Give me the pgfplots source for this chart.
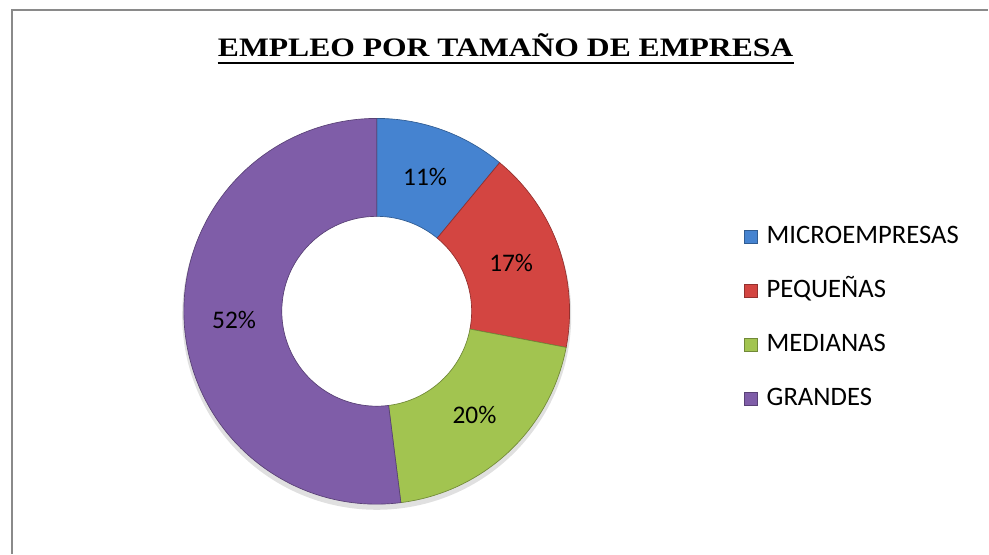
\documentclass[border=0pt]{standalone}
\usepackage{pgfplots}
\pgfplotsset{compat=1.18}
\usepackage{pgfplotstable}
\usepackage{graphicx}
\usepackage{fontspec}
\setmainfont{Carlito}
\newfontfamily\titlefont{Liberation Serif}

\definecolor{cmicro}{HTML}{4583D0}
\definecolor{cpeq}{HTML}{D34541}
\definecolor{cmed}{HTML}{A2C450}
\definecolor{cgra}{HTML}{7F5DA8}
\definecolor{framegray}{HTML}{8A8A8A}

% share of employment, in percent
\pgfplotstableread[col sep=comma]{
name,value,col
MICROEMPRESAS,11,cmicro
PEQUEÑAS,17,cpeq
MEDIANAS,20,cmed
GRANDES,52,cgra
}\shares

\begin{document}
\begin{tikzpicture}
\begin{axis}[
    width=741.75pt,
    height=415.5pt,
    scale only axis,
    xmin=0, xmax=989,
    ymin=0, ymax=554,
    hide axis,
    clip=false
]
\coordinate (SW) at (axis cs:0,0);
\coordinate (NE) at (axis cs:989,554);
\coordinate (F) at (axis cs:12,544);
\coordinate (C) at (axis cs:377,242.5);
\coordinate (T) at (axis cs:506,497.5);
\coordinate (L) at (axis cs:745,310.7);
\end{axis}

\path (SW) rectangle (NE);
\draw[framegray, line width=1.1pt] (F |- SW) -- (F) -- (F -| NE);

% title
\node[inner sep=0, anchor=base] (title) at (T)
  {\titlefont\bfseries\fontsize{20}{20}\selectfont\scalebox{1.186}[1]{EMPLEO POR TAMAÑO DE EMPRESA}};
\draw[line width=2pt] ([yshift=-5pt]title.base west) -- ([yshift=-5pt]title.base east);

% soft shadow under the ring, hole kept white
\fill[black!12] ([yshift=-3pt]C) circle[radius=146pt];
\fill[white] (C) circle[radius=71.25pt];

% ring segments, clockwise from 12 o'clock, plus legend
\pgfplotstablegetrowsof{\shares}
\pgfmathtruncatemacro{\nlast}{\pgfplotsretval-1}
\gdef\cum{0}
\foreach \i in {0,...,\nlast}{
  \pgfplotstablegetelem{\i}{value}\of\shares \let\val\pgfplotsretval
  \pgfplotstablegetelem{\i}{col}\of\shares \let\col\pgfplotsretval
  \pgfmathsetmacro{\aa}{90-3.6*\cum}
  \pgfmathsetmacro{\ab}{90-3.6*(\cum+\val)}
  \pgfmathsetmacro{\am}{(\aa+\ab)/2}
  \fill[\col, draw=\col!70!black, line width=0.5pt]
    ([shift={(\aa:144.75pt)}]C) arc[start angle=\aa, end angle=\ab, radius=144.75pt]
    -- ([shift={(\ab:71.25pt)}]C) arc[start angle=\ab, end angle=\aa, radius=71.25pt] -- cycle;
  \node[font=\fontsize{19}{19}\selectfont] at ([shift={(\am:107.25pt)}]C) {\val\%};
  \pgfmathsetmacro{\newcum}{\cum+\val}
  \xdef\cum{\newcum}
  \fill[\col, draw=\col!70!black, line width=0.5pt]
    ([shift={(0,-40.7pt*\i)}]L) rectangle ++(9.75pt,9.75pt);
  \pgfplotstablegetelem{\i}{name}\of\shares
  \node[anchor=base west, inner sep=0, font=\fontsize{20}{20}\selectfont]
    at ([shift={(16.5pt,-40.7pt*\i)}]L) {\pgfplotsretval};
}
\end{tikzpicture}
\end{document}
